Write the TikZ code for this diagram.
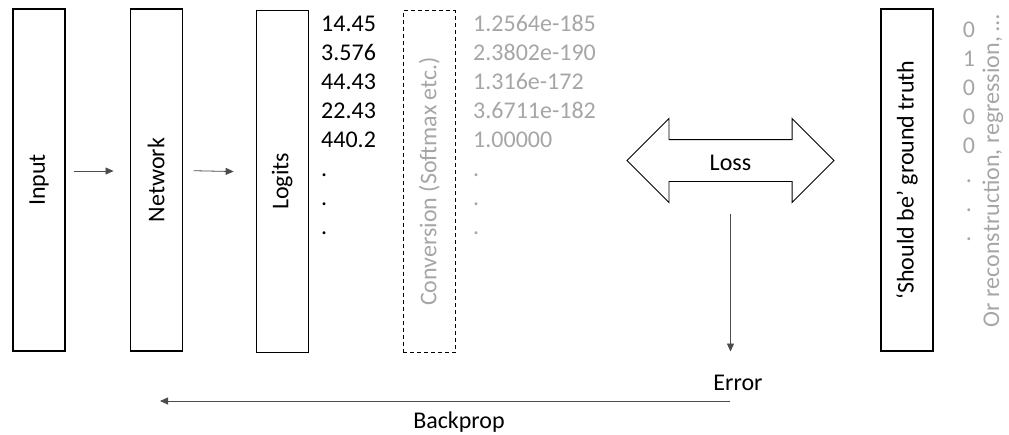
\documentclass[tikz,border=0pt]{standalone}
\usepackage{fontspec}
\setmainfont{Carlito}
\usetikzlibrary{arrows.meta,positioning,shapes.arrows}
\definecolor{softgray}{RGB}{166,166,166}

\begin{document}
\begin{tikzpicture}[x=1pt,y=-1pt,font=\fontsize{24}{29}\selectfont,
  block/.style={draw, line width=1.1pt, minimum width=52pt, minimum height=342pt, inner sep=0pt},
  val/.style={anchor=base west, inner sep=0pt},
  gval/.style={anchor=base, inner sep=0pt, text=softgray},
  arr/.style={-{Triangle[length=8pt,width=7pt]}, line width=0.8pt, black!70}]
  \useasboundingbox (0,0) rectangle (1009,434);

  \node[block] (in) at (39,180) {\rotatebox{90}{Input}};
  \node[block] (net) [right=64pt of in] {\rotatebox{90}{Network}};
  \node[block] (lg) [right=73pt of net, yshift=-1.5pt] {\rotatebox{90}{Logits}};
  \node[block, dash pattern=on 4pt off 3pt, line width=0.9pt, text=softgray] (conv) [right=94pt of lg] {\rotatebox{90}{Conversion (Softmax etc.)}};

  \draw[arr, shorten <=8pt, shorten >=16pt] ([yshift=9pt]in.east) -- ([yshift=9pt]net.west);
  \draw[arr, shorten <=11pt, shorten >=22pt] ([yshift=9.5pt]net.east) -- ([yshift=9.5pt]lg.west);

  % logits and converted values
  \foreach \v [count=\i] in {14.45,3.576,44.43,22.43,440.2,.,.,.}
    \node[val] (lv\i) at (321,2+29*\i) {\v};
  \foreach \v [count=\i] in {1.2564e-185,2.3802e-190,1.316e-172,3.6711e-182,1.00000,.,.,.}
    \node[val, text=softgray] (pv\i) at (473,2+29*\i) {\v};

  \node[draw, double arrow, double arrow head extend=21pt, minimum height=207pt,
    text height=19pt, text depth=0pt, inner xsep=0pt, inner ysep=11pt, line width=0.9pt] (loss) at (730.5,160.5) {Loss};

  \node[inner sep=0pt] (err) at (738,383) {Error};
  \draw[arr, shorten <=53.5pt, shorten >=23.5pt] (loss.center) -- (loss.center |- err.north);

  \coordinate (bp0) at (730,401);
  \coordinate (bp1) at (160,401);
  \draw[arr] (bp0) -- (bp1);
  \node (bp) at (459,422) {Backprop};

  \node[block] (gt) at (907,180) {\rotatebox{90}{‘Should be’ ground truth}};
  \foreach \v [count=\i] in {0,1,0,0,0,.,.,.}
    \node[gval] (gv\i) at (969,8+29*\i) {\v};
  \node[inner sep=0pt, text=softgray, rotate=90] (note) at (993,171) {Or reconstruction, regression, …};

\end{tikzpicture}
\end{document}
